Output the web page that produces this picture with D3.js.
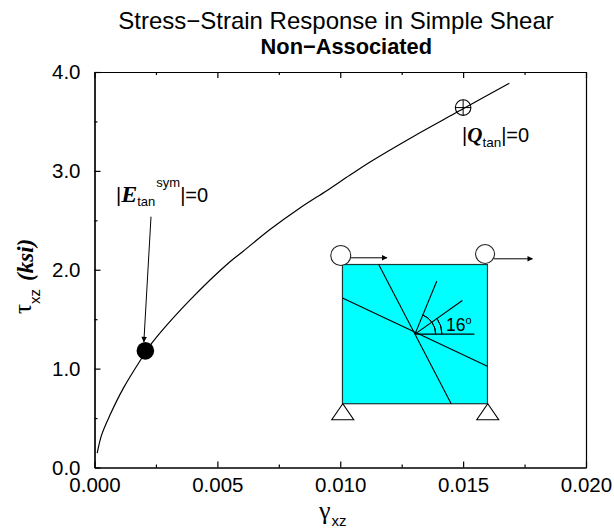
<!DOCTYPE html>
<html>
<head>
<meta charset="utf-8">
<script src="https://cdn.jsdelivr.net/npm/d3@7"></script>
<style>
  html, body { margin: 0; padding: 0; background: #fff; }
  text { font-family: "Liberation Sans", Arial, sans-serif; fill: #000; }
  .serif { font-family: "Liberation Serif", "Times New Roman", serif; font-weight: bold; font-style: italic; }
  .greek { font-family: "Liberation Serif", "Times New Roman", serif; }
</style>
</head>
<body>
<div id="chart"></div>
<script>
// values
var gamma = [0.00011, 0.00029, 0.00063, 0.00117, 0.00192, 0.00233, 0.00389, 0.0055, 0.00604, 0.00714, 0.00836, 0.00945, 0.0104, 0.01128, 0.01296, 0.01467, 0.015, 0.01688];
var tau = [0.145, 0.33, 0.53, 0.80, 1.105, 1.257, 1.695, 2.079, 2.185, 2.407, 2.625, 2.80, 2.958, 3.10, 3.346, 3.582, 3.629, 3.886];

var xTicks = [0, 0.005, 0.01, 0.015, 0.02];
var xMinorTicks = [0.0025, 0.0075, 0.0125, 0.0175];
var yTicks = [0, 1, 2, 3, 4];
var yMinorTicks = [0.5, 1.5, 2.5, 3.5];

var symPoint = [0.00207, 1.18];   // |E_tan^sym| = 0
var tanPoint = [0.015, 3.64];     // |Q_tan| = 0

// inset: square specimen in its own 0..1 coordinates
var insetCentre = [0.5, 0.5];
var insetCracks = [[[0.25, 1], [0.75, 0]], [[0, 0.76], [1, 0.27]]];
var insetRays = [[0.15, 0.38], [0.327, 0.242], [0.41, 0]];  // offsets from the centre
var insetArcs = [[20.7, 67.7], [27, 35.4]];                 // radius, end angle

var width = 614, height = 531;
var margin = { top: 72, right: 28, bottom: 63.5, left: 94.5 };

var svg = d3.select("#chart").append("svg")
  .attr("width", width)
  .attr("height", height)
  .style("display", "block");

var x = d3.scaleLinear().domain([0, 0.02]).range([margin.left, width - margin.right]);
var y = d3.scaleLinear().domain([0, 4]).range([height - margin.bottom, margin.top]);

// axis frame, ticks point inward
function drawAxis(axis, tx, ty) {
  var g = svg.append("g").attr("transform", "translate(" + tx + "," + ty + ")").call(axis);
  g.selectAll("path, line").attr("stroke", "#000").attr("stroke-width", 1.2);
  return g;
}
var xf = d3.format(".3f"), yf = d3.format(".1f");
var yB = height - margin.bottom, xL = margin.left, xR = width - margin.right;

var bottom = drawAxis(d3.axisBottom(x).tickValues(xTicks).tickFormat(xf).tickSizeInner(-6).tickSizeOuter(0).tickPadding(10), 0, yB);
bottom.selectAll("text").attr("font-size", 20.5).attr("font-family", "Liberation Sans").attr("dy", "0.72em");
drawAxis(d3.axisBottom(x).tickValues(xMinorTicks).tickFormat("").tickSizeInner(-3).tickSizeOuter(0), 0, yB);
drawAxis(d3.axisTop(x).tickValues(xTicks).tickFormat("").tickSizeInner(-6).tickSizeOuter(0), 0, margin.top);
drawAxis(d3.axisTop(x).tickValues(xMinorTicks).tickFormat("").tickSizeInner(-3).tickSizeOuter(0), 0, margin.top);

var left = drawAxis(d3.axisLeft(y).tickValues(yTicks).tickFormat(yf).tickSizeInner(-6).tickSizeOuter(0).tickPadding(14), xL, 0);
left.selectAll("text").attr("font-size", 20.5).attr("font-family", "Liberation Sans");
drawAxis(d3.axisLeft(y).tickValues(yMinorTicks).tickFormat("").tickSizeInner(-3).tickSizeOuter(0), xL, 0);
drawAxis(d3.axisRight(y).tickValues([]).tickSizeOuter(0), xR, 0);

// titles
svg.append("text").attr("x", 336).attr("y", 29.3).attr("text-anchor", "middle").attr("font-size", 24)
  .text("Stress\u2212Strain Response in Simple Shear");
svg.append("text").attr("x", 346.3).attr("y", 54.3).attr("text-anchor", "middle").attr("font-size", 21.8).attr("font-weight", "bold")
  .text("Non\u2212Associated");

// axis titles
var xt = svg.append("text").attr("x", 319).attr("y", 518.5).attr("font-size", 15);
xt.append("tspan").attr("class", "greek").attr("font-size", 26).text("\u03b3");
xt.append("tspan").attr("dy", 7).attr("dx", 1).text("xz");

var yt = svg.append("text").attr("transform", "translate(31,314) rotate(-90)").attr("font-size", 15);
yt.append("tspan").attr("class", "greek").attr("font-size", 25).text("\u03c4");
yt.append("tspan").attr("dy", 9).text("xz");
yt.append("tspan").attr("class", "serif").attr("font-size", 23).attr("dy", -7).attr("dx", 8).text("(ksi)");

// inset
var ix = d3.scaleLinear().domain([0, 1]).range([x(0.01009), x(0.01599)]);
var iy = d3.scaleLinear().domain([0, 1]).range([y(0.645), y(2.053)]);
var cx = ix(insetCentre[0]), cy = iy(insetCentre[1]);
var inset = svg.append("g");

inset.append("rect")
  .attr("x", ix(0)).attr("y", iy(1))
  .attr("width", ix(1) - ix(0)).attr("height", iy(0) - iy(1))
  .attr("fill", "#00ffff").attr("stroke", "#1a3a3a").attr("stroke-width", 1.2);

inset.selectAll("line.crack").data(insetCracks).enter().append("line")
  .attr("x1", function (d) { return ix(d[0][0]); }).attr("y1", function (d) { return iy(d[0][1]); })
  .attr("x2", function (d) { return ix(d[1][0]); }).attr("y2", function (d) { return iy(d[1][1]); })
  .attr("stroke", "#000").attr("stroke-width", 1.1);

inset.selectAll("line.ray").data(insetRays).enter().append("line")
  .attr("x1", cx).attr("y1", cy)
  .attr("x2", function (d) { return ix(insetCentre[0] + d[0]); })
  .attr("y2", function (d) { return iy(insetCentre[1] + d[1]); })
  .attr("stroke", "#000").attr("stroke-width", 1.1);

var arc = d3.arc();
inset.selectAll("path.angle").data(insetArcs).enter().append("path")
  .attr("transform", "translate(" + cx + "," + cy + ")")
  .attr("d", function (d) {
    return arc({ innerRadius: d[0], outerRadius: d[0], startAngle: Math.PI / 2, endAngle: (90 - d[1]) * Math.PI / 180 });
  })
  .attr("fill", "none").attr("stroke", "#000").attr("stroke-width", 1);

var dt = inset.append("text").attr("x", cx + 31).attr("y", cy - 3.5).attr("font-size", 17.5).text("16");
dt.append("tspan").attr("font-size", 11).attr("dy", -7).text("o");

// rollers and supports at the square's corners
[[0, 1, 10, -9], [1, 1, 9.5, -10.5]].forEach(function (r) {
  inset.append("circle").attr("cx", ix(r[0]) + (r[0] ? -2.4 : -1.7)).attr("cy", iy(r[1]) + r[3])
    .attr("r", r[2]).attr("fill", "#fff").attr("stroke", "#222").attr("stroke-width", 1.1);
});
svg.append("defs").append("marker").attr("id", "head")
  .attr("viewBox", "0 0 10 10").attr("refX", 9).attr("refY", 5)
  .attr("markerWidth", 7.5).attr("markerHeight", 5.5).attr("markerUnits", "userSpaceOnUse").attr("orient", "auto")
  .append("path").attr("d", "M0,0L10,5L0,10z").attr("fill", "#000");

[[ix(0) + 8.5, ix(0) + 44.5, iy(1) - 6.7], [ix(1) + 6.6, ix(1) + 45, iy(1) - 5.7]].forEach(function (a) {
  inset.append("line").attr("x1", a[0]).attr("x2", a[1]).attr("y1", a[2]).attr("y2", a[2])
    .attr("stroke", "#000").attr("stroke-width", 1).attr("marker-end", "url(#head)");
});
[0, 1].forEach(function (c) {
  var px = ix(c) + 0.3, py = iy(0);
  inset.append("path").attr("d", d3.line()([[px, py], [px - 11, py + 16], [px + 11, py + 16]]) + "Z")
    .attr("fill", "#fff").attr("stroke", "#000").attr("stroke-width", 1.1);
});

// response curve
var line = d3.line()
  .curve(d3.curveCatmullRom.alpha(0.5))
  .x(function (d) { return x(d); })
  .y(function (d, i) { return y(tau[i]); });
svg.append("path").attr("d", line(gamma)).attr("fill", "none").attr("stroke", "#000").attr("stroke-width", 1.2);

// marked points
svg.append("circle").attr("cx", x(symPoint[0])).attr("cy", y(symPoint[1])).attr("r", 8.8).attr("fill", "#000");
var tx = x(tanPoint[0]), ty = y(tanPoint[1]);
svg.append("circle").attr("cx", tx).attr("cy", ty).attr("r", 7.8).attr("fill", "none").attr("stroke", "#000").attr("stroke-width", 1.1);
svg.append("path").attr("d", "M" + (tx - 7.8) + "," + ty + "H" + (tx + 7.8) + "M" + tx + "," + (ty - 7.8) + "V" + (ty + 7.8))
  .attr("stroke", "#000").attr("stroke-width", 1);

// annotations
svg.append("line").attr("x1", 151).attr("y1", 216.7).attr("x2", x(symPoint[0]) - 1.5).attr("y2", y(symPoint[1]) - 9)
  .attr("stroke", "#000").attr("stroke-width", 1).attr("marker-end", "url(#head)");

var e = svg.append("text").attr("x", 116).attr("y", 202).attr("font-size", 20);
e.append("tspan").text("|");
e.append("tspan").attr("class", "serif").attr("font-size", 24).text("E");
e.append("tspan").attr("font-size", 13).attr("dy", 4).text("tan");
e.append("tspan").attr("font-size", 13).attr("dy", -19).attr("dx", 1).text("sym");
e.append("tspan").attr("dy", 15).text("|=0");

var q = svg.append("text").attr("x", 462).attr("y", 142).attr("font-size", 20);
q.append("tspan").text("|");
q.append("tspan").attr("class", "serif").attr("font-size", 21).text("Q");
q.append("tspan").attr("font-size", 13.5).attr("dy", 5).text("tan");
q.append("tspan").attr("dy", -5).text("|=0");
</script>
</body>
</html>
